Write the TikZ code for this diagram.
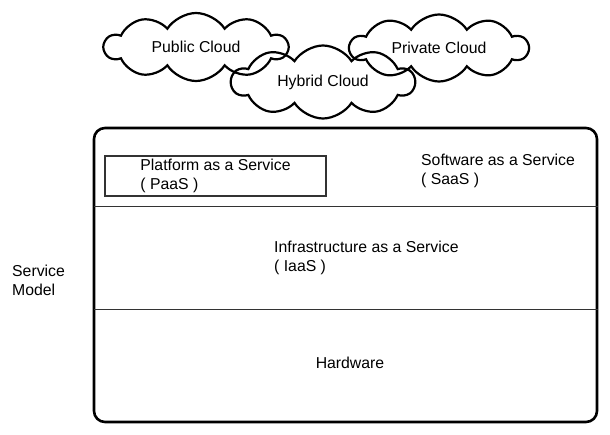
\documentclass[tikz,border=0pt]{standalone}
\usepackage{fontspec}
\setmainfont{Liberation Sans}
\usepackage{tikz}
\usetikzlibrary{shapes.symbols}
\tikzset{
    cloud-box/.style = {draw, cloud, cloud puffs=10, cloud puff arc=115, cloud ignores aspect, line width=2.2pt, inner sep=0pt},
    model-box/.style = {draw, rectangle, rounded corners=11pt, line width=2.6pt},
    layer-line/.style = {draw=black!80, line width=1pt},
    paas-box/.style = {draw=black!80, rectangle, line width=1.1pt, align=left, inner sep=0pt},
    layer-text/.style = {align=left, inner sep=0pt},
}

\begin{document}
\begin{tikzpicture}[x=1pt, y=-1pt, font=\fontsize{15.8}{19}\selectfont]
\useasboundingbox (0,0) rectangle (610,434);
% clouds
\node [cloud-box, minimum width=183pt, minimum height=68pt] (public) at (196,47) {Public Cloud};
\node [cloud-box, minimum width=183pt, minimum height=73pt] (hybrid) at (323,82) {Hybrid Cloud};
\node [cloud-box, minimum width=178pt, minimum height=67pt] (private) at (439,48) {Private Cloud};
% service model stack
\node [model-box, minimum width=503pt, minimum height=294pt] (model) at (345.5,275) {};
\coordinate (cut-saas) at (94,206);
\coordinate (cut-iaas) at (94,309);
\draw [layer-line] (cut-saas) -- (cut-saas -| model.east);
\draw [layer-line] (cut-iaas) -- (cut-iaas -| model.east);
\node [paas-box, minimum width=221pt, minimum height=40pt] (paas) at (215.5,176) {Platform as a Service\\( PaaS )};
\node [layer-text, anchor=west] (saas) at (421,170.5) {Software as a Service\\( SaaS )};
\node [layer-text, anchor=west] (iaas) at (274,258) {Infrastructure as a Service\\( IaaS )};
\node [layer-text] (hardware) at (350,363) {Hardware};
\node [layer-text, anchor=west] (label) at (12,280) {Service\\Model};
\end{tikzpicture}
\end{document}
